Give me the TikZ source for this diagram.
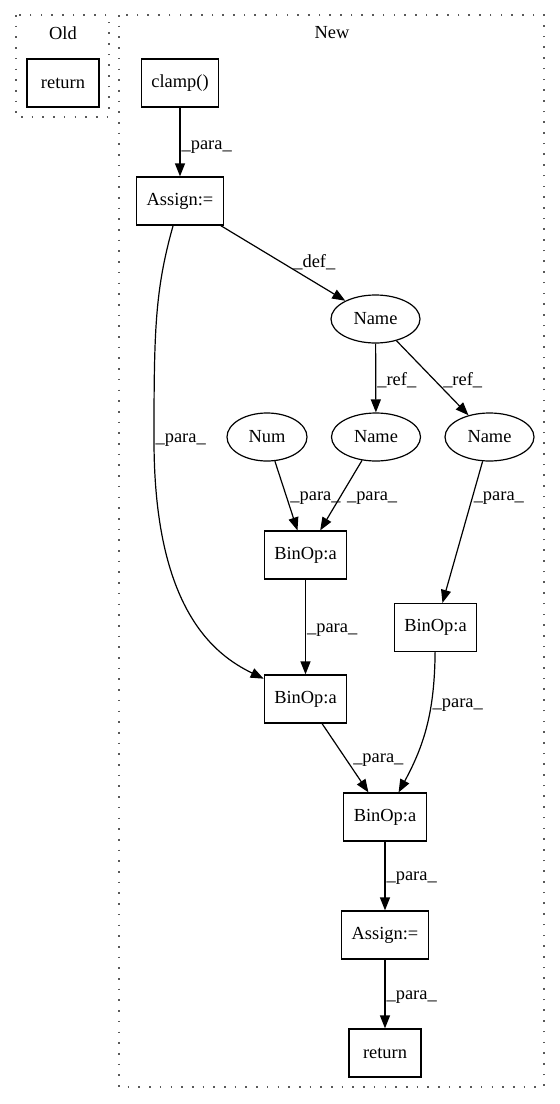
\documentclass[tikz,border=0pt]{standalone}
\usepackage{fontspec}
\setmainfont{Liberation Serif}
\usetikzlibrary{arrows.meta,shapes.geometric}
\tikzset{
  >={Triangle[length=13bp,width=10bp]},
  % noder
  bx/.style={rectangle,draw=black,line width=1.2bp,inner xsep=10bp,inner ysep=0pt,
             minimum width=72bp,minimum height=48bp,font=\fontsize{18.5}{21}\selectfont},
  ell/.style={ellipse,draw=black,line width=1.2bp,inner sep=0pt,
             minimum width=89bp,minimum height=48bp,font=\fontsize{18.5}{21}\selectfont},
  % kanter
  ed/.style={->,draw=black,line width=1.2bp},
  lb/.style={font=\fontsize{18.5}{21}\selectfont,inner sep=1bp},
  % kluster
  clu/.style={draw=black!65,line width=1.3bp,dash pattern=on 1.6bp off 9.1bp},
  clab/.style={font=\fontsize{18.5}{21}\selectfont,inner sep=0pt},
}
\begin{document}
\begin{tikzpicture}[x=1bp,y=-1bp]
  \useasboundingbox (0,0) rectangle (560,1104);
  \draw[clu] (16,15) rectangle (109,117);
  \draw[clu] (119,15) rectangle (544,1087);
  \node[clab] (oldlbl) at (63,33) {Old};
  \node[clab] (newlbl) at (332,33) {New};
  \node[bx] (ret1) at (63,83) {return};
  \node[bx] (clamp) at (180,83) {clamp()};
  \node[bx] (assign1) at (180,201) {Assign:=};
  \node[ell] (name1) at (375.5,319) {Name};
  \node[ell,minimum width=80bp] (num) at (267,437) {Num};
  \node[ell] (name2) at (376,437) {Name};
  \node[ell] (name3) at (489.5,437) {Name};
  \node[bx] (binop1) at (305.5,555) {BinOp:a};
  \node[bx] (binopr) at (435.5,627.5) {BinOp:a};
  \node[bx] (binop3) at (305.5,699) {BinOp:a};
  \node[bx] (binop4) at (385,817) {BinOp:a};
  \node[bx] (assign2) at (385,935) {Assign:=};
  \node[bx] (ret2) at (385,1053) {return};
  \draw[ed] (clamp) -- node[lb,right,pos=0.57]{\_para\_} (assign1);
  \draw[ed] (assign1) -- node[lb,right,pos=0.49,xshift=10bp]{\_def\_} (name1);
  \draw[ed] (assign1) .. controls (155,290) and (154,330) .. (154,440)
    node[lb,right]{\_para\_}
    .. controls (154,610) and (215,655) .. (binop3);
  \draw[ed] (name1) -- node[lb,right,pos=0.53]{\_ref\_} (name2);
  \draw[ed] (name1) -- node[lb,right,pos=0.53,xshift=7bp]{\_ref\_} (name3);
  \draw[ed] (num) -- node[lb,right,pos=0.53,xshift=2bp]{\_para\_} (binop1);
  \draw[ed] (name2) -- node[lb,right,pos=0.54,xshift=6bp]{\_para\_} (binop1);
  \draw[ed] (name3) -- node[lb,right,pos=0.26]{\_para\_} (binopr);
  \draw[ed] (binop1) -- node[lb,right,pos=0.53]{\_para\_} (binop3);
  \draw[ed] (binop3) -- node[lb,right,pos=0.53,xshift=5bp]{\_para\_} (binop4);
  \draw[ed] (binopr) to[bend left=14] node[lb,right,pos=0.35]{\_para\_} (binop4);
  \draw[ed] (binop4) -- node[lb,right,pos=0.53]{\_para\_} (assign2);
  \draw[ed] (assign2) -- node[lb,right,pos=0.54]{\_para\_} (ret2);
\end{tikzpicture}
\end{document}
